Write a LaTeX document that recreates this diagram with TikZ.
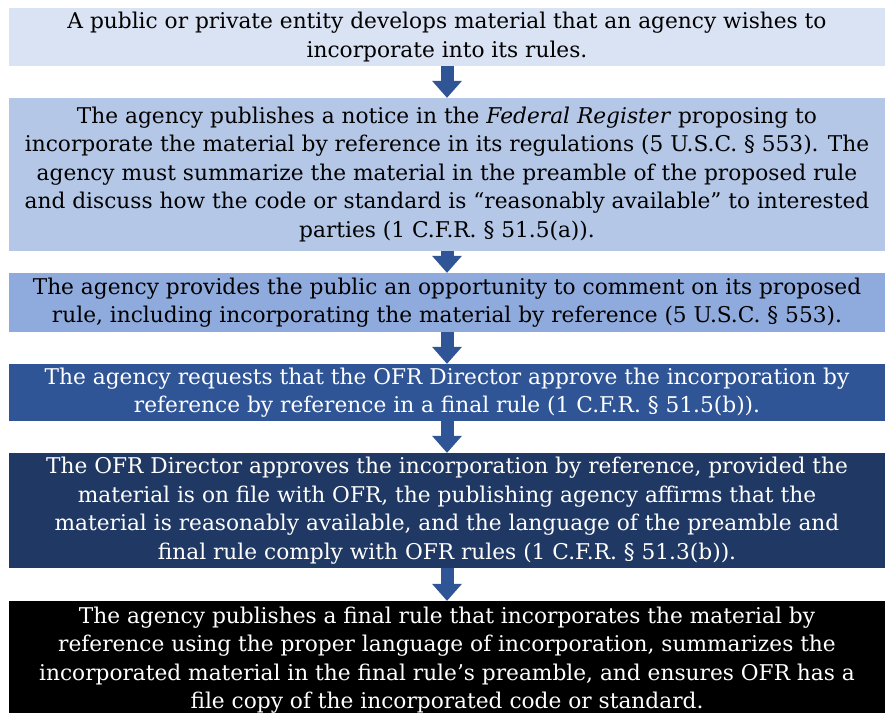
\documentclass[tikz,border=0pt]{standalone}
\usepackage{fontspec}
\setmainfont{DejaVu Serif}
\usepackage{tikz}
\usetikzlibrary{arrows.meta}
\definecolor{tintA}{HTML}{DAE3F3}
\definecolor{tintB}{HTML}{B4C7E7}
\definecolor{tintC}{HTML}{8FAADC}
\definecolor{shadeA}{HTML}{2F5597}
\definecolor{shadeB}{HTML}{203864}
\definecolor{flowblue}{HTML}{2F5597}
\tikzset{
  stage/.style={rectangle, inner sep=0pt, minimum width=876pt, align=center,
    font=\fontsize{21.7}{28.5}\selectfont},
  flow/.style={line width=13pt, flowblue,
    -{Triangle[width=30pt,length=17pt,line width=0pt]}}
}

\begin{document}
\begin{tikzpicture}[x=1pt,y=-1pt]
\useasboundingbox (0,0) rectangle (891,712);
\clip (0,0) rectangle (891,712);
\node[stage, fill=tintA, minimum height=58pt] (develop) at (447,37) {
A public or private entity develops material that an agency wishes to\\
incorporate into its rules.};
\node[stage, fill=tintB, minimum height=153pt] (notice) at (447,174.5) {
The agency publishes a notice in the \textit{Federal Register} proposing to\\
incorporate the material by reference in its regulations (5 U.S.C. \S~553). The\\
agency must summarize the material in the preamble of the proposed rule\\
and discuss how the code or standard is “reasonably available” to interested\\
parties (1 C.F.R. \S~51.5(a)).};
\node[stage, fill=tintC, minimum height=59pt] (comment) at (447,302.5) {
The agency provides the public an opportunity to comment on its proposed\\
rule, including incorporating the material by reference (5 U.S.C. \S~553).};
\node[stage, fill=shadeA, text=white, minimum height=57pt] (request) at (447,392.5) {
The agency requests that the OFR Director approve the incorporation by\\
reference by reference in a final rule (1 C.F.R. \S~51.5(b)).};
\node[stage, fill=shadeB, text=white, minimum height=115pt] (approve) at (447,510.5) {
The OFR Director approves the incorporation by reference, provided the\\
material is on file with OFR, the publishing agency affirms that the\\
material is reasonably available, and the language of the preamble and\\
final rule comply with OFR rules (1 C.F.R. \S~51.3(b)).};
\node[stage, fill=black, text=white, minimum height=118pt] (final) at (447,660) {
The agency publishes a final rule that incorporates the material by\\
reference using the proper language of incorporation, summarizes the\\
incorporated material in the final rule’s preamble, and ensures OFR has a\\
file copy of the incorporated code or standard.};
\draw[flow] (develop.south) -- (notice.north);
\draw[flow] (notice.south) -- (comment.north);
\draw[flow] (comment.south) -- (request.north);
\draw[flow] (request.south) -- (approve.north);
\draw[flow] (approve.south) -- (final.north);
\end{tikzpicture}
\end{document}
